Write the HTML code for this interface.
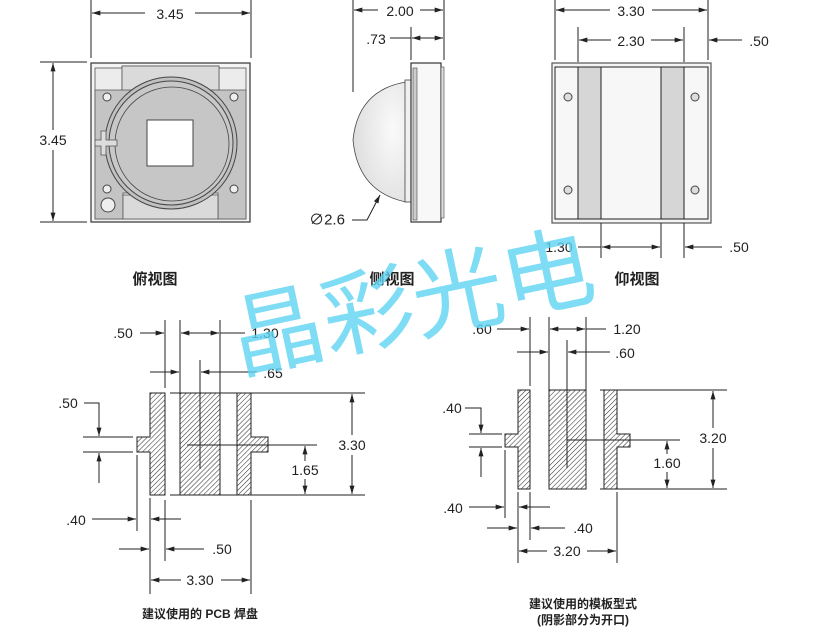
<!DOCTYPE html>
<html><head><meta charset="utf-8"><style>
html,body{margin:0;padding:0;background:#fff}
svg{display:block}
text{font-family:"Liberation Sans","Noto Sans CJK SC",sans-serif;fill:#222}
.d{font-size:14px;text-anchor:middle;dominant-baseline:central}
.c{font-size:15px;font-weight:bold;text-anchor:middle;font-family:"Liberation Sans","Noto Sans CJK SC",sans-serif}
.l{stroke:#222;stroke-width:1;fill:none}
.ar{stroke:#222;stroke-width:1;fill:none;marker-end:url(#a)}
.dd{stroke:#222;stroke-width:1;fill:none;marker-start:url(#a);marker-end:url(#a)}
.h{fill:url(#hat);stroke:#222;stroke-width:1}
</style></head><body>
<svg width="816" height="635" viewBox="0 0 816 635" xmlns="http://www.w3.org/2000/svg">
<defs>
<marker id="a" viewBox="0 0 10 6" refX="10" refY="3" markerWidth="9" markerHeight="5" orient="auto-start-reverse" markerUnits="userSpaceOnUse"><path d="M0,0L10,3L0,6z" fill="#222"/></marker>
<pattern id="hat" width="3.5" height="3.5" patternUnits="userSpaceOnUse" patternTransform="rotate(45)"><rect width="3.5" height="3.5" fill="#fff"/><line x1="0" y1="0" x2="0" y2="3.5" stroke="#333" stroke-width="1.1"/></pattern>
<radialGradient id="dome" cx="0.75" cy="0.4" r="0.8"><stop offset="0" stop-color="#fafafa"/><stop offset="1" stop-color="#dcdcdc"/></radialGradient>
</defs>

<!-- TOP VIEW -->
<line class="l" x1="91" y1="0" x2="91" y2="58"/><line class="l" x1="251" y1="0" x2="251" y2="58"/>
<line class="dd" x1="92" y1="13" x2="250" y2="13"/>
<rect x="145" y="4" width="50" height="18" fill="#fff"/><text class="d" x="170" y="14">3.45</text>
<line class="l" x1="40" y1="62" x2="87" y2="62"/><line class="l" x1="40" y1="222" x2="87" y2="222"/>
<line class="dd" x1="53" y1="63" x2="53" y2="221"/>
<rect x="35" y="130" width="36" height="20" fill="#fff"/><text class="d" x="53" y="140">3.45</text>
<rect x="91" y="63" width="159" height="159" fill="#f4f4f4" stroke="#333" stroke-width="1.2"/>
<rect x="95" y="68" width="151" height="151" fill="#ececec" stroke="#555" stroke-width="0.8"/>
<path d="M95,90H122V66H219V90H246V219H218V193H123V219H95Z" fill="#c4c4c4" stroke="#555" stroke-width="0.8"/>
<rect x="122" y="66" width="97" height="24" fill="#dadada" stroke="#555" stroke-width="0.8"/>
<rect x="123" y="195" width="95" height="24" fill="#dadada" stroke="#555" stroke-width="0.8"/>
<circle cx="171" cy="143" r="66" fill="#c0c0c0" stroke="#444" stroke-width="1"/>
<circle cx="171" cy="143" r="62" fill="#c8c8c8" stroke="#444" stroke-width="1"/>
<circle cx="172" cy="144" r="57" fill="#c6c6c6" stroke="#444" stroke-width="0.8"/>
<rect x="147" y="120" width="46" height="46" fill="#fff" stroke="#444"/>
<path d="M101,131h5v9h11v6h-11v9h-5v-9h-6v-6h6z" fill="#ddd" stroke="#555" stroke-width="0.8"/>
<circle cx="107" cy="97" r="4" fill="#eee" stroke="#444"/><circle cx="234" cy="97" r="4" fill="#eee" stroke="#444"/>
<circle cx="107" cy="189" r="4" fill="#eee" stroke="#444"/><circle cx="234" cy="189" r="4" fill="#eee" stroke="#444"/>
<circle cx="108" cy="205" r="7" fill="#eee" stroke="#444"/>
<text class="c" x="155" y="284">俯视图</text>

<!-- SIDE VIEW -->
<line class="l" x1="353" y1="0" x2="353" y2="92"/><line class="l" x1="444" y1="0" x2="444" y2="60"/>
<line class="dd" x1="354" y1="10" x2="443" y2="10"/>
<rect x="378" y="1" width="42" height="18" fill="#fff"/><text class="d" x="400" y="11">2.00</text>
<line class="l" x1="411" y1="27" x2="411" y2="60"/>
<line class="l" x1="390" y1="38" x2="411" y2="38"/>
<line class="dd" x1="412" y1="38" x2="443" y2="38"/>
<text class="d" x="376" y="39">.73</text>
<path d="M406,82 Q358,90 353,140 Q358,192 406,202 Z" fill="url(#dome)" stroke="#444" stroke-width="0.8"/>
<rect x="405" y="80" width="7" height="122" fill="#f0f0f0" stroke="#444" stroke-width="0.8"/>
<rect x="411" y="63" width="30" height="159" fill="#f8f8f8" stroke="#333" stroke-width="1.2"/>
<rect x="413" y="68" width="4" height="152" fill="#ccc" stroke="#444" stroke-width="0.6"/>
<rect x="441" y="67" width="3" height="151" fill="#ddd" stroke="#444" stroke-width="0.6"/>
<polyline class="ar" points="352,220 367,220 380,195"/>
<text class="d" x="327" y="220" style="font-size:15px">∅2.6</text>
<text class="c" x="392" y="284">侧视图</text>

<!-- BOTTOM VIEW -->
<line class="l" x1="555" y1="0" x2="555" y2="60"/><line class="l" x1="708" y1="0" x2="708" y2="60"/>
<line class="dd" x1="556" y1="10" x2="707" y2="10"/>
<rect x="610" y="1" width="42" height="18" fill="#fff"/><text class="d" x="631" y="11">3.30</text>
<line class="l" x1="578" y1="27" x2="578" y2="62"/><line class="l" x1="684" y1="27" x2="684" y2="62"/>
<line class="dd" x1="579" y1="40" x2="683" y2="40"/>
<rect x="611" y="31" width="40" height="18" fill="#fff"/><text class="d" x="631" y="41">2.30</text>
<line class="ar" x1="742" y1="40" x2="709" y2="40"/>
<text class="d" x="759" y="41">.50</text>
<rect x="552" y="63" width="159" height="160" fill="#f4f4f4" stroke="#555" stroke-width="1.2"/>
<rect x="555" y="67" width="153" height="152" fill="#f7f7f7" stroke="#222" stroke-width="1"/>
<rect x="578" y="67" width="23" height="152" fill="#d6d6d6" stroke="#222" stroke-width="1"/>
<rect x="661" y="67" width="23" height="152" fill="#d6d6d6" stroke="#222" stroke-width="1"/>
<circle cx="568" cy="97" r="4" fill="#ddd" stroke="#444"/><circle cx="695" cy="97" r="4" fill="#ddd" stroke="#444"/>
<circle cx="568" cy="190" r="4" fill="#ddd" stroke="#444"/><circle cx="695" cy="190" r="4" fill="#ddd" stroke="#444"/>
<line class="l" x1="601" y1="223" x2="601" y2="258"/><line class="l" x1="661" y1="223" x2="661" y2="258"/><line class="l" x1="684" y1="223" x2="684" y2="258"/>
<line class="l" x1="578" y1="247" x2="601" y2="247"/>
<line class="dd" x1="602" y1="247" x2="660" y2="247"/>
<text class="d" x="559" y="247">1.30</text>
<line class="ar" x1="722" y1="247" x2="685" y2="247"/>
<text class="d" x="739" y="247">.50</text>
<text class="c" x="637" y="284">仰视图</text>

<!-- PCB PADS -->
<path class="h" d="M150,393H165V495H150V452H137V437H150Z"/>
<rect class="h" x="180" y="393" width="40" height="102"/>
<path class="h" d="M237,393H251V437H268V452H251V495H237Z"/>
<line class="l" x1="200" y1="360" x2="200" y2="469"/>
<line class="l" x1="187" y1="445" x2="317" y2="445"/>
<line class="l" x1="165" y1="320" x2="165" y2="388"/><line class="l" x1="180" y1="320" x2="180" y2="393"/><line class="l" x1="220" y1="320" x2="220" y2="393"/>
<line class="ar" x1="140" y1="333" x2="164" y2="333"/>
<text class="d" x="123" y="333">.50</text>
<line class="dd" x1="181" y1="333" x2="219" y2="333"/>
<line class="l" x1="220" y1="333" x2="245" y2="333"/>
<text class="d" x="265" y="333">1.30</text>
<line class="ar" x1="150" y1="372" x2="179" y2="372"/>
<line class="ar" x1="257" y1="372" x2="201" y2="372"/>
<text class="d" x="273" y="373">.65</text>
<line class="l" x1="170" y1="393" x2="365" y2="393"/><line class="l" x1="170" y1="495" x2="365" y2="495"/>
<line class="dd" x1="352" y1="394" x2="352" y2="494"/>
<rect x="334" y="435" width="36" height="20" fill="#fff"/><text class="d" x="352" y="445">3.30</text>
<line class="dd" x1="305" y1="446" x2="305" y2="494"/>
<rect x="289" y="461" width="34" height="18" fill="#fff"/><text class="d" x="305" y="470">1.65</text>
<line class="l" x1="83" y1="437" x2="133" y2="437"/><line class="l" x1="83" y1="452" x2="133" y2="452"/>
<polyline class="ar" points="84,403 99,403 99,436"/>
<line class="ar" x1="99" y1="483" x2="99" y2="453"/>
<text class="d" x="68" y="403">.50</text>
<line class="l" x1="137" y1="455" x2="137" y2="531"/>
<line class="l" x1="150" y1="498" x2="150" y2="594"/>
<line class="l" x1="165" y1="500" x2="165" y2="561"/>
<line class="l" x1="251" y1="500" x2="251" y2="594"/>
<line class="ar" x1="92" y1="519" x2="136" y2="519"/>
<line class="ar" x1="181" y1="519" x2="151" y2="519"/>
<text class="d" x="76" y="520">.40</text>
<line class="ar" x1="119" y1="549" x2="149" y2="549"/>
<line class="ar" x1="204" y1="549" x2="166" y2="549"/>
<text class="d" x="222" y="549">.50</text>
<line class="dd" x1="151" y1="580" x2="250" y2="580"/>
<rect x="181" y="571" width="40" height="18" fill="#fff"/><text class="d" x="200" y="580">3.30</text>
<text class="c" x="200" y="618" style="font-size:12px">建议使用的 PCB 焊盘</text>

<!-- STENCIL -->
<path class="h" d="M518,390H530V489H518V447H505V434H518Z"/>
<rect class="h" x="549" y="390" width="37" height="99"/>
<path class="h" d="M604,390H617V434H630V447H617V489H604Z"/>
<line class="l" x1="567" y1="340" x2="567" y2="468"/>
<line class="l" x1="567" y1="440" x2="680" y2="440"/>
<line class="l" x1="530" y1="317" x2="530" y2="386"/><line class="l" x1="549" y1="317" x2="549" y2="390"/><line class="l" x1="586" y1="317" x2="586" y2="390"/>
<line class="ar" x1="497" y1="329" x2="529" y2="329"/>
<text class="d" x="482" y="329">.60</text>
<line class="dd" x1="550" y1="329" x2="585" y2="329"/>
<line class="l" x1="586" y1="329" x2="606" y2="329"/>
<text class="d" x="627" y="329">1.20</text>
<line class="ar" x1="517" y1="352" x2="548" y2="352"/>
<line class="ar" x1="610" y1="352" x2="568" y2="352"/>
<text class="d" x="625" y="353">.60</text>
<line class="l" x1="600" y1="390" x2="727" y2="390"/><line class="l" x1="600" y1="489" x2="727" y2="489"/>
<line class="dd" x1="713" y1="391" x2="713" y2="488"/>
<rect x="696" y="428" width="34" height="20" fill="#fff"/><text class="d" x="713" y="438">3.20</text>
<line class="dd" x1="667" y1="441" x2="667" y2="488"/>
<rect x="651" y="454" width="34" height="18" fill="#fff"/><text class="d" x="667" y="463">1.60</text>
<line class="l" x1="469" y1="434" x2="502" y2="434"/><line class="l" x1="469" y1="447" x2="502" y2="447"/>
<polyline class="ar" points="465,408 481,408 481,433"/>
<line class="ar" x1="481" y1="477" x2="481" y2="448"/>
<text class="d" x="452" y="408">.40</text>
<line class="l" x1="505" y1="450" x2="505" y2="518"/>
<line class="l" x1="518" y1="492" x2="518" y2="563"/>
<line class="l" x1="530" y1="492" x2="530" y2="540"/>
<line class="l" x1="617" y1="492" x2="617" y2="563"/>
<line class="ar" x1="469" y1="507" x2="504" y2="507"/>
<line class="ar" x1="550" y1="507" x2="519" y2="507"/>
<text class="d" x="453" y="508">.40</text>
<line class="ar" x1="487" y1="528" x2="517" y2="528"/>
<line class="ar" x1="565" y1="528" x2="531" y2="528"/>
<text class="d" x="583" y="528">.40</text>
<line class="dd" x1="519" y1="551" x2="616" y2="551"/>
<rect x="547" y="542" width="40" height="18" fill="#fff"/><text class="d" x="567" y="551">3.20</text>
<text class="c" x="583" y="608" style="font-size:12px">建议使用的模板型式</text>
<text class="c" x="583" y="624" style="font-size:12px">(阴影部分为开口)</text>

<!-- WATERMARK -->
<g transform="rotate(-12 410 290)" opacity="0.8">
<text x="226" y="335" style="font-size:92px;fill:#5fd4f2;font-family:'Noto Sans CJK SC',sans-serif">晶彩光电</text>
</g>
</svg>
</body></html>
